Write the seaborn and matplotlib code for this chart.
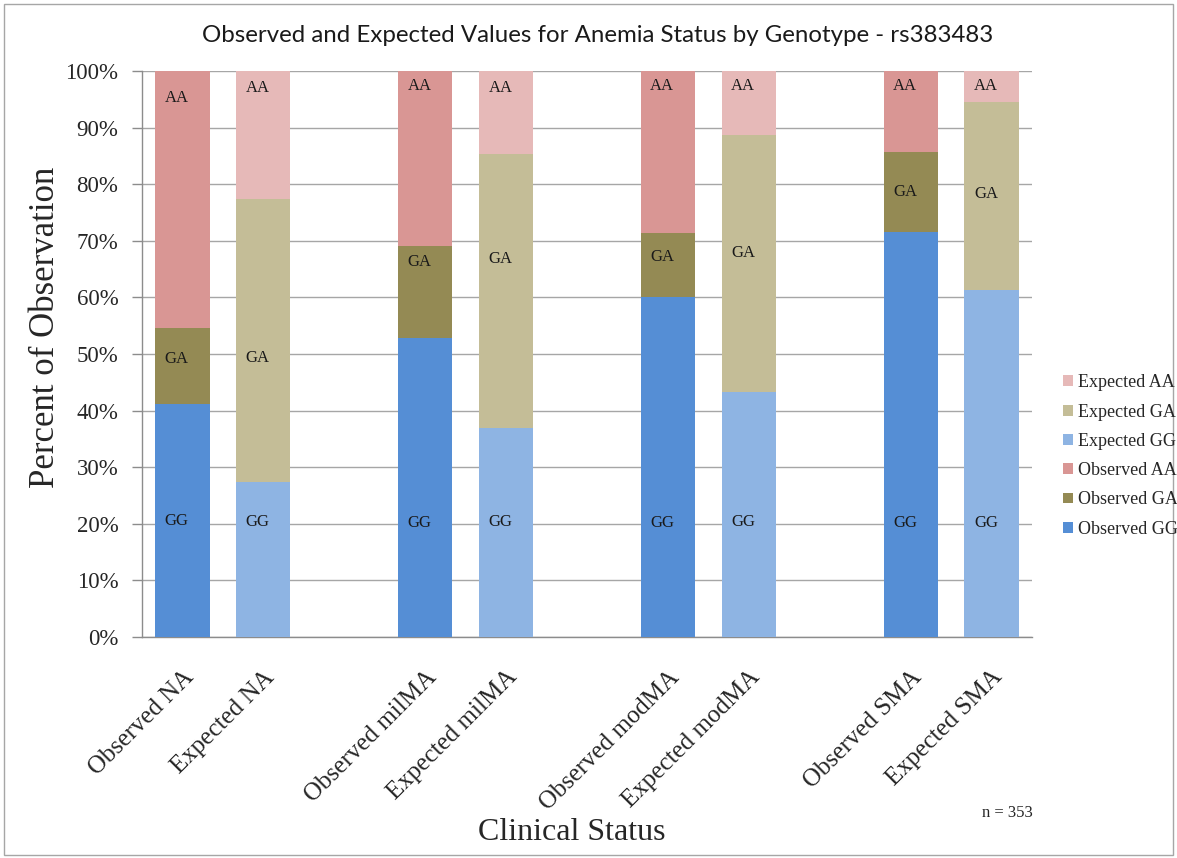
import matplotlib
matplotlib.use("Agg")
import matplotlib.pyplot as plt
from matplotlib.patches import Patch, Rectangle
import pandas as pd
import seaborn as sns

# Genotype shares (percent) for each clinical status bar
categories = ["Observed NA", "Expected NA", "Observed milMA", "Expected milMA",
              "Observed modMA", "Expected modMA", "Observed SMA", "Expected SMA"]
kinds = ["Observed", "Expected", "Observed", "Expected",
         "Observed", "Expected", "Observed", "Expected"]
gg_pct = [41.2, 27.4, 52.8, 37.0, 60.0, 43.2, 71.6, 61.3]
ga_pct = [13.4, 49.9, 16.3, 48.3, 11.3, 45.5, 14.1, 33.3]
aa_pct = [45.4, 22.7, 30.9, 14.7, 28.7, 11.3, 14.3, 5.4]
y_ticks = [0, 10, 20, 30, 40, 50, 60, 70, 80, 90, 100]
sample_note = "n = 353"

# Slot order along the x axis, with empty spacer slots between status groups
slot_order = ["Observed NA", "Expected NA", " ",
              "Observed milMA", "Expected milMA", "  ",
              "Observed modMA", "Expected modMA", "   ",
              "Observed SMA", "Expected SMA"]

# Vertical positions (percent) of the in-bar genotype labels
aa_label_y = [95.2, 97.0, 97.3, 97.0, 97.3, 97.3, 97.3, 97.3]
ga_label_y = [49.2, 49.3, 66.3, 66.8, 67.2, 67.8, 78.6, 78.2]
gg_label_y = [20.5, 20.3, 20.2, 20.4, 20.2, 20.4, 20.2, 20.2]

colors = {
    ("Observed", "GG"): "#558ED5",
    ("Observed", "GA"): "#948A54",
    ("Observed", "AA"): "#D99694",
    ("Expected", "GG"): "#8EB4E3",
    ("Expected", "GA"): "#C4BD97",
    ("Expected", "AA"): "#E6B9B8",
}

df = pd.DataFrame({
    "status": categories,
    "kind": kinds,
    "GG": gg_pct,
    "GA": ga_pct,
    "AA": aa_pct,
})
df["cum_GG"] = df["GG"]
df["cum_GA"] = df["GG"] + df["GA"]
df["cum_AA"] = df["GG"] + df["GA"] + df["AA"]

sns.set_theme(style="white")
plt.rcParams["font.family"] = ["Liberation Serif", "DejaVu Serif"]

fig = plt.figure(figsize=(11.77, 8.58), dpi=100)
ax = fig.add_axes([142 / 1177, 1 - 637 / 858, (1032 - 142) / 1177, (637 - 71) / 858])

# Stacked bars: draw cumulative totals from the top layer down
for geno in ["AA", "GA", "GG"]:
    sns.barplot(data=df, x="status", y=f"cum_{geno}", hue="kind",
                order=slot_order, hue_order=["Observed", "Expected"],
                palette={k: colors[(k, geno)] for k in ["Observed", "Expected"]},
                dodge=False, width=0.67, saturation=1, linewidth=0,
                legend=False, ax=ax, zorder=3)

pos = {name: i for i, name in enumerate(slot_order)}
for i, name in enumerate(categories):
    x = pos[name] - 0.07
    for lab, yv in (("AA", aa_label_y[i]), ("GA", ga_label_y[i]), ("GG", gg_label_y[i])):
        ax.text(x, yv, lab, ha="center", va="center", fontsize=12,
                color="#1a1a1a", zorder=5)

# Axes styling
ax.set_xlim(-0.5, len(slot_order) - 0.5)
ax.set_ylim(0, 100)
ax.set_yticks(y_ticks)
ax.set_yticklabels([f"{v}%" for v in y_ticks], fontsize=16.5)
ax.yaxis.grid(True, color="#A6A6A6", linewidth=1.0, zorder=0)
ax.xaxis.grid(False)
ax.set_axisbelow(True)

label_pos = [pos[c] for c in categories]
ax.set_xticks(label_pos)
ax.set_xticklabels(categories, rotation=45, ha="right", rotation_mode="anchor",
                   fontsize=18)
ax.set_xticks([i - 0.5 for i in range(len(slot_order) + 1)], minor=True)
ax.tick_params(axis="x", which="major", length=0, pad=21)
ax.tick_params(axis="x", which="minor", length=6, width=1, color="#8C8C8C",
               direction="out")
ax.tick_params(axis="y", which="major", length=7, width=1, color="#8C8C8C",
               direction="out", left=True, pad=10)

for side in ("top", "right"):
    ax.spines[side].set_visible(False)
for side in ("left", "bottom"):
    ax.spines[side].set_color("#8C8C8C")
    ax.spines[side].set_linewidth(1)

ax.set_xlabel("Clinical Status", fontsize=23)
ax.xaxis.set_label_coords((572 - 142) / 890, -(818 - 637) / 566)
ax.set_ylabel("Percent of Observation", fontsize=25)
ax.yaxis.set_label_coords(-(142 - 62) / 890, (637 - 327) / 566)

fig.text(0.508, 1 - 36 / 858, "Observed and Expected Values for Anemia Status by Genotype - rs383483",
         ha="center", va="center", fontsize=17.3, family=["Lato", "DejaVu Sans"],
         color="#1a1a1a")

# Legend, listed top to bottom as in the stacked order
legend_keys = [("Expected", "AA"), ("Expected", "GA"), ("Expected", "GG"),
               ("Observed", "AA"), ("Observed", "GA"), ("Observed", "GG")]
handles = [Patch(facecolor=colors[k], edgecolor="none", label=f"{k[0]} {k[1]}")
           for k in legend_keys]
fig.legend(handles=handles, loc="center left",
           bbox_to_anchor=(1054 / 1177, 1 - 456 / 858), frameon=False,
           fontsize=13, handlelength=0.55, handleheight=0.55, handletextpad=0.3,
           labelspacing=0.68, borderpad=0)

fig.text(1033 / 1177, 1 - 813 / 858, sample_note, ha="right", va="center",
         fontsize=12)

fig.add_artist(Rectangle((0.003, 0.004), 0.994, 0.991, transform=fig.transFigure,
                         fill=False, edgecolor="#A6A6A6", linewidth=1))

fig.savefig("out.png", dpi=100)
